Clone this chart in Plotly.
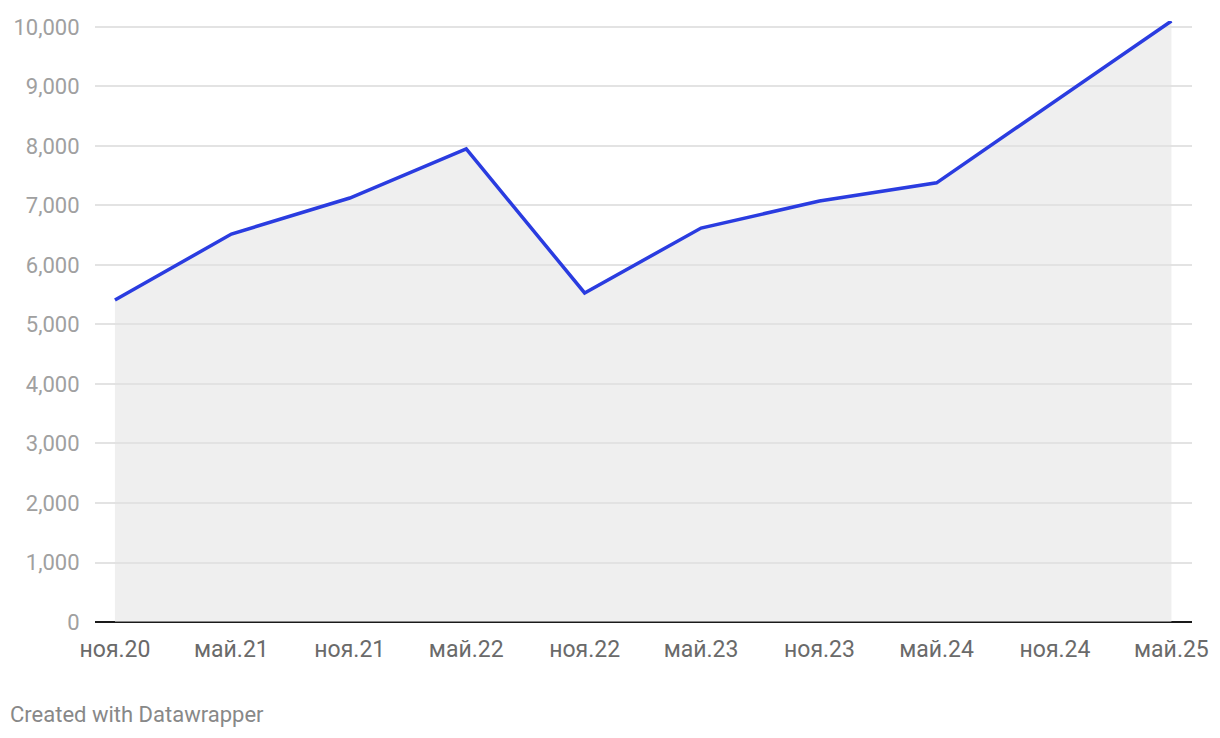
import plotly.graph_objects as go

dates = ["2020-11-01", "2021-05-01", "2021-11-01", "2022-05-01", "2022-11-01",
         "2023-05-01", "2023-11-01", "2024-05-01", "2025-05-01"]
values = [5410, 6520, 7125, 7950, 5530, 6620, 7075, 7380, 10100]

tick_dates = ["2020-11-01", "2021-05-01", "2021-11-01", "2022-05-01", "2022-11-01",
              "2023-05-01", "2023-11-01", "2024-05-01", "2024-11-01", "2025-05-01"]
tick_labels = ["ноя.20", "май.21", "ноя.21", "май.22", "ноя.22",
               "май.23", "ноя.23", "май.24", "ноя.24", "май.25"]
y_ticks = [0, 1000, 2000, 3000, 4000, 5000, 6000, 7000, 8000, 9000, 10000]
y_labels = ["0", "1,000", "2,000", "3,000", "4,000", "5,000", "6,000", "7,000", "8,000", "9,000", "10,000"]

fig = go.Figure()
fig.add_trace(go.Scatter(
    x=dates, y=values, mode="lines",
    line=dict(color="#2a3ce0", width=3.5),
    fill="tozeroy", fillcolor="rgba(226,226,226,0.55)",
    hoverinfo="skip", cliponaxis=False,
))

fig.update_layout(
    width=1204, height=722,
    margin=dict(l=87, r=20, t=13, b=108, autoexpand=False),
    paper_bgcolor="white", plot_bgcolor="white",
    showlegend=False,
    font=dict(family="Roboto", color="#999999"),
    xaxis=dict(
        type="date", automargin=False,
        range=["2020-10-01", "2025-06-02"],
        tickvals=tick_dates, ticktext=tick_labels,
        tickfont=dict(size=23, color="#6a6a6a", family="Roboto"),
        showgrid=False, zeroline=False,
        showline=False, ticks="outside", ticklen=6, tickcolor="rgba(0,0,0,0)",
    ),
    yaxis=dict(
        automargin=False,
        range=[0, 10100],
        tickvals=y_ticks, ticktext=y_labels,
        tickfont=dict(size=22, color="#a0a0a0", family="Roboto"),
        showgrid=True, gridcolor="#e3e3e3", gridwidth=1.5,
        zeroline=True, zerolinecolor="#1a1a1a", zerolinewidth=2,
        ticks="outside", ticklen=10, tickcolor="rgba(0,0,0,0)",
        showline=False,
    ),
    annotations=[dict(
        text="Created with Datawrapper", xref="paper", yref="paper",
        x=-87/1097, y=-92/601, xanchor="left", yanchor="middle",
        showarrow=False, font=dict(size=22, color="#888888", family="Roboto"),
    )],
)

fig.write_html("out.html")
